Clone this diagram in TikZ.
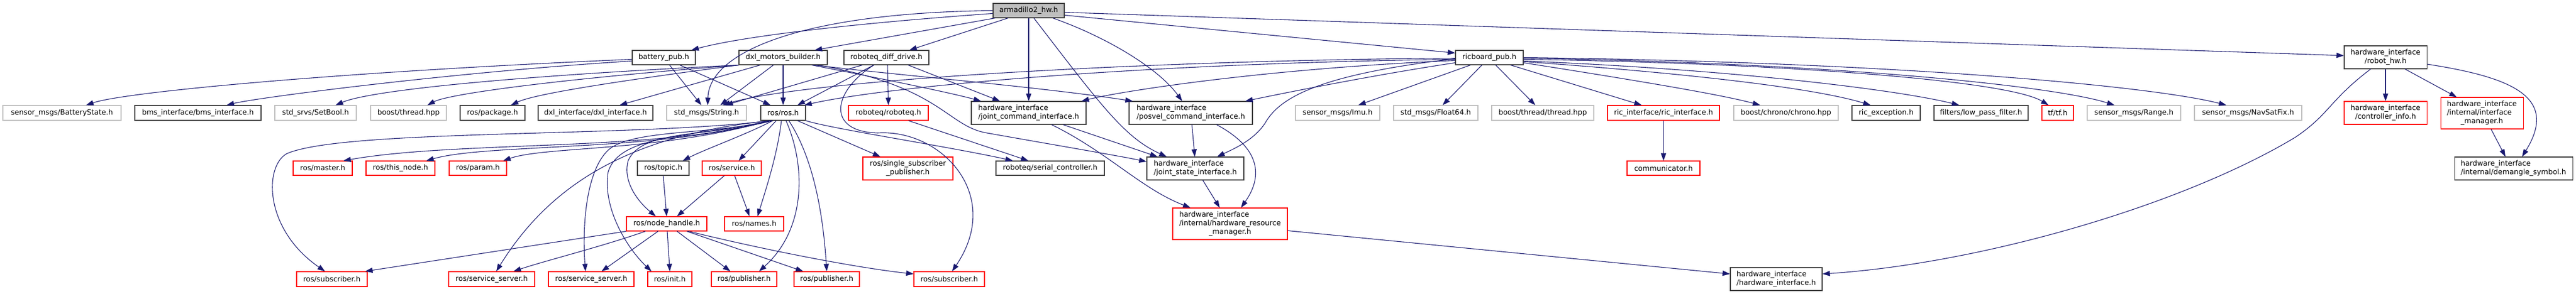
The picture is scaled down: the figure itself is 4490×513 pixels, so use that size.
\documentclass[tikz,border=0pt]{standalone}
\usepackage{fontspec}
\setmainfont{DejaVu Sans}
\usetikzlibrary{arrows.meta}
\definecolor{mb}{HTML}{191970}
\definecolor{bkc}{HTML}{404040}
\definecolor{gyc}{HTML}{BFBFBF}
\definecolor{rdc}{HTML}{FF0000}
\newcommand\dvs{\fontsize{12.6}{15}\selectfont}
\newcommand\ml[2]{\begin{tabular}{@{}l@{}}#1\\\multicolumn{1}{@{}c@{}}{#2}\end{tabular}}
\begin{document}
\begin{tikzpicture}[x=1pt,y=-1pt,
  box/.style={rectangle, inner sep=0pt, line width=1.1pt, font=\dvs, text=black},
  bk/.style={box, draw=bkc},
  gy/.style={box, draw=gyc},
  rb/.style={box, draw=rdc},
  sz/.style 2 args={minimum width=#1pt, minimum height=#2pt},
  e/.style={draw=mb, line width=1.1pt, -{Triangle[length=13pt,width=9pt]}}]
\fill[white] (0,0) rectangle (4490,513);
\useasboundingbox (0,0) rectangle (4490,513);
% row 0
\node[bk, fill=gyc, sz={124}{25}] (arm) at (1793,18.5) {armadillo2\_hw.h};
% row 1
\node[bk, sz={110}{25}] (bat) at (1157,100.5) {battery\_pub.h};
\node[bk, sz={154}{25}] (dxl) at (1365,100.5) {dxl\_motors\_builder.h};
\node[bk, sz={148}{25}] (rdd) at (1545,100.5) {roboteq\_diff\_drive.h};
\node[bk, sz={118}{25}] (ric) at (2596,100.5) {ricboard\_pub.h};
\node[bk, sz={144}{40}] (rhw) at (4158,100) {\ml{hardware\_interface}{/robot\_hw.h}};
% row 2
\node[gy, sz={206}{26}] (bst) at (108,197) {sensor\_msgs/BatteryState.h};
\node[bk, sz={220}{26}] (bms) at (345,197) {bms\_interface/bms\_interface.h};
\node[gy, sz={142}{26}] (setb) at (550,197) {std\_srvs/SetBool.h};
\node[gy, sz={132}{26}] (bth) at (712,197) {boost/thread.hpp};
\node[bk, sz={113}{26}] (pkg) at (858.5,197) {ros/package.h};
\node[bk, sz={200}{26}] (dxli) at (1038,197) {dxl\_interface/dxl\_interface.h};
\node[gy, sz={139}{26}] (str) at (1231.5,197) {std\_msgs/String.h};
\node[bk, sz={78}{26}] (ros) at (1365,197) {ros/ros.h};
\node[rb, sz={139}{26}] (rbq) at (1548.5,197) {roboteq/roboteq.h};
\node[bk, sz={200}{40}] (jci) at (1793,197) {\ml{hardware\_interface}{/joint\_command\_interface.h}};
\node[bk, sz={215}{40}] (pvi) at (2075.5,197) {\ml{hardware\_interface}{/posvel\_command\_interface.h}};
\node[gy, sz={147}{26}] (imu) at (2331.5,197) {sensor\_msgs/Imu.h};
\node[gy, sz={147}{26}] (f64) at (2502.5,197) {std\_msgs/Float64.h};
\node[gy, sz={178}{26}] (tth) at (2689,197) {boost/thread/thread.hpp};
\node[rb, sz={195}{26}] (rici) at (2899.5,197) {ric\_interface/ric\_interface.h};
\node[gy, sz={182}{26}] (chr) at (3113,197) {boost/chrono/chrono.hpp};
\node[bk, sz={119}{26}] (rexc) at (3287.5,197) {ric\_exception.h};
\node[bk, sz={164}{26}] (lpf) at (3453,197) {filters/low\_pass\_filter.h};
\node[rb, sz={55}{26}] (tf) at (3586.5,197) {tf/tf.h};
\node[gy, sz={163}{26}] (rng) at (3719.5,197) {sensor\_msgs/Range.h};
\node[gy, sz={187}{26}] (nsf) at (3918.5,197) {sensor\_msgs/NavSatFix.h};
\node[rb, sz={144}{40}] (cinfo) at (4158,197) {\ml{hardware\_interface}{/controller\_info.h}};
\node[rb, sz={144}{55}] (imgr) at (4326,197.5) {\ml{hardware\_interface\\/internal/interface}{\_manager.h}};
% row 3
\node[rb, sz={103}{25}] (mst) at (562.5,293.5) {ros/master.h};
\node[rb, sz={120}{25}] (thn) at (698,293.5) {ros/this\_node.h};
\node[rb, sz={100}{25}] (prm) at (833,293.5) {ros/param.h};
\node[bk, sz={90}{25}] (top) at (1156,293.5) {ros/topic.h};
\node[rb, sz={103}{25}] (srv) at (1275.5,293.5) {ros/service.h};
\node[rb, sz={157}{40}] (ssp) at (1582.5,294) {\ml{ros/single\_subscriber}{\_publisher.h}};
\node[bk, sz={189}{25}] (ser) at (1830.5,293.5) {roboteq/serial\_controller.h};
\node[bk, sz={169}{40}] (jsi) at (2083.5,294) {\ml{hardware\_interface}{/joint\_state\_interface.h}};
\node[rb, sz={127}{25}] (com) at (2899.5,293.5) {communicator.h};
\node[bk, sz={206}{40}] (dem) at (4381,294) {\ml{hardware\_interface}{/internal/demangle\_symbol.h}};
% row 4
\node[rb, sz={140}{25}] (nh) at (1162,390.5) {ros/node\_handle.h};
\node[rb, sz={103}{25}] (nam) at (1314.5,390.5) {ros/names.h};
\node[rb, sz={200}{55}] (hrm) at (2144,390.5) {\ml{hardware\_interface\\/internal/hardware\_resource}{\_manager.h}};
% row 5
\node[rb, sz={123}{26}] (sub1) at (578.5,487) {ros/subscriber.h};
\node[rb, sz={150}{26}] (ss1) at (857,487) {ros/service\_server.h};
\node[rb, sz={149}{26}] (ss2) at (1030.5,487) {ros/service\_server.h};
\node[rb, sz={77}{26}] (init) at (1167.5,487) {ros/init.h};
\node[rb, sz={114}{26}] (pub1) at (1297,487) {ros/publisher.h};
\node[rb, sz={114}{26}] (pub2) at (1441,487) {ros/publisher.h};
\node[rb, sz={123}{26}] (sub2) at (1654.5,487) {ros/subscriber.h};
\node[bk, sz={160}{40}] (hwi) at (3096,487) {\ml{hardware\_interface}{/hardware\_interface.h}};
% edges from armadillo2_hw.h
\draw[e] (arm.west) .. controls (1400,22) and (1236,90) .. ([xshift=2pt]str.north);
\draw[e] ([yshift=-5pt]arm.west) .. controls (1500,40) and (1300,62) .. ([xshift=48pt]bat.north);
\draw[e] ([xshift=4pt]arm.south west) -- ([xshift=55pt]dxl.north);
\draw[e] ([xshift=-36pt]arm.south) -- ([xshift=40pt]rdd.north);
\draw[e] (arm.south) -- (jci.north);
\draw[e] ([xshift=9pt]arm.south) .. controls (1920,185) and (1960,240) .. ([xshift=-50pt]jsi.north);
\draw[e] ([xshift=42pt]arm.south) .. controls (1930,65) and (2020,120) .. ([xshift=-15pt]pvi.north);
\draw[e] ([yshift=-8pt]arm.east) -- ([yshift=8pt]ric.west);
\draw[e] ([yshift=-3pt]arm.east) -- ([yshift=3pt]rhw.west);
% battery_pub.h
\draw[e] ([yshift=-3pt]bat.west) .. controls (600,125) and (220,160) .. ([xshift=42pt]bst.north);
\draw[e] ([yshift=-6pt]bat.west) .. controls (800,125) and (450,170) .. ([xshift=50pt]bms.north);
\draw[e] ([xshift=10pt]bat.south) -- ([xshift=-9pt]str.north);
\draw[e] ([xshift=28pt]bat.south) -- ([xshift=-22pt]ros.north);
% dxl_motors_builder.h
\draw[e] (dxl.south west) .. controls (850,135) and (640,160) .. ([xshift=35pt]setb.north);
\draw[e] (dxl.south west) .. controls (950,140) and (780,165) .. ([xshift=33pt]bth.north);
\draw[e] (dxl.south west) .. controls (1050,145) and (930,165) .. ([xshift=32pt]pkg.north);
\draw[e] ([xshift=-40pt]dxl.south) -- ([xshift=42pt]dxli.north);
\draw[e] ([xshift=-17pt]dxl.south) -- ([xshift=24pt]str.north);
\draw[e] (dxl.south) -- (ros.north);
\draw[e] ([xshift=50pt]dxl.south) .. controls (1500,130) and (1650,160) .. ([xshift=-83pt]jci.north);
\draw[e] ([xshift=55pt]dxl.south) .. controls (1550,130) and (1800,150) .. ([xshift=7pt]pvi.north west);
\draw[e] ([xshift=60pt]dxl.south) .. controls (1640,150) and (1650,220) .. (1720,232) .. controls (1850,255) and (1950,272) .. ([yshift=12pt]jsi.west);
% roboteq_diff_drive.h
\draw[e] ([xshift=-42pt]rdd.south) -- ([xshift=33pt]str.north);
\draw[e] ([xshift=-22pt]rdd.south) -- ([xshift=25pt]ros.north);
\draw[e] ([xshift=2pt]rdd.south) -- (rbq.north);
\draw[e] ([xshift=38pt]rdd.south) -- ([xshift=-50pt]jci.north);
\draw[e] ([xshift=-22pt]rdd.south) .. controls (1450,160) and (1440,230) .. (1530,232) .. controls (1640,225) and (1750,340) .. ([xshift=5pt]sub2.north);
% ros/ros.h
\draw[e] ([xshift=-12pt]ros.south) -- ([xshift=12pt]srv.north);
\draw[e] ([xshift=-18pt]ros.south) .. controls (1300,235) and (1230,260) .. ([xshift=34pt]top.north);
\draw[e] ([xshift=-3pt]ros.south) .. controls (1355,270) and (1335,330) .. ([xshift=6pt]nam.north);
\draw[e] ([xshift=5pt]ros.south) .. controls (1405,290) and (1405,400) .. ([xshift=26pt]pub1.north);
\draw[e] ([xshift=10pt]ros.south) .. controls (1420,280) and (1435,380) .. (pub2.north);
\draw[e] ([xshift=25pt]ros.south) -- ([xshift=-48pt]ssp.north);
\draw[e] (ros.south east) .. controls (1450,225) and (1650,255) .. ([xshift=-65pt]ser.north);
\draw[e] ([xshift=-24pt]ros.south) .. controls (1150,265) and (800,245) .. ([xshift=36pt]mst.north);
\draw[e] ([xshift=-24pt]ros.south) .. controls (1150,265) and (850,250) .. ([xshift=45pt]thn.north);
\draw[e] ([xshift=-24pt]ros.south) .. controls (1150,265) and (950,255) .. ([xshift=44pt]prm.north);
\draw[e] ([xshift=-20pt]ros.south) .. controls (1100,240) and (600,225) .. (500,268) .. controls (460,290) and (460,400) .. ([xshift=-12pt]sub1.north);
\draw[e] ([xshift=-22pt]ros.south) .. controls (1100,235) and (960,320) .. ([xshift=8pt]ss1.north);
\draw[e] ([xshift=-22pt]ros.south) .. controls (1250,235) and (1100,225) .. (1060,262) .. controls (1020,300) and (1015,400) .. ([xshift=-10pt]ss2.north);
\draw[e] ([xshift=-20pt]ros.south) .. controls (1200,240) and (1080,235) .. (1060,300) .. controls (1050,360) and (1090,430) .. ([xshift=-32pt]init.north);
\draw[e] ([xshift=-18pt]ros.south) .. controls (1230,240) and (1120,225) .. (1095,280) .. controls (1085,315) and (1110,350) .. ([xshift=-19pt]nh.north);
% roboteq.h
\draw[e] ([xshift=35pt]rbq.south) -- ([xshift=-38pt]ser.north);
% hardware interface chain
\draw[e] ([xshift=60pt]jci.south) -- ([xshift=-66pt]jsi.north);
\draw[e] ([xshift=40pt]jci.south) .. controls (1930,265) and (1990,330) .. ([xshift=-69pt]hrm.north);
\draw[e] ([xshift=2pt]pvi.south) -- ([xshift=-1pt]jsi.north);
\draw[e] ([xshift=45pt]pvi.south) .. controls (2200,260) and (2200,310) .. ([xshift=19pt]hrm.north);
\draw[e] ([xshift=13pt]jsi.south) -- ([xshift=-18pt]hrm.north);
\draw[e] ([yshift=-12pt]hrm.east) -- ([yshift=9pt]hwi.west);
% ricboard_pub.h
\draw[e] ([yshift=-1pt]ric.west) .. controls (2000,105) and (1400,140) .. ([xshift=28pt]str.north);
\draw[e] ([yshift=-3pt]ric.west) .. controls (2000,110) and (1550,150) .. ([xshift=37pt]ros.north);
\draw[e] ([yshift=-5pt]ric.west) .. controls (2200,120) and (1950,160) .. ([xshift=92pt]jci.north);
\draw[e] ([yshift=-9pt]ric.west) .. controls (2400,130) and (2250,160) .. ([xshift=95pt]pvi.north);
\draw[e] ([yshift=-2pt]ric.west) .. controls (2300,130) and (2230,170) .. (2205,215) .. controls (2185,245) and (2150,260) .. ([xshift=38pt]jsi.north);
\draw[e] ([xshift=-33pt]ric.south) -- ([xshift=36pt]imu.north);
\draw[e] ([xshift=-13pt]ric.south) -- ([xshift=12pt]f64.north);
\draw[e] ([xshift=11pt]ric.south) -- ([xshift=-13pt]tth.north);
\draw[e] ([xshift=37pt]ric.south) -- ([xshift=-38pt]rici.north);
\draw[e] ([yshift=-9pt]ric.east) .. controls (2850,140) and (3000,165) .. ([xshift=-45pt]chr.north);
\draw[e] ([yshift=-7pt]ric.east) .. controls (2900,125) and (3150,150) .. ([xshift=-27pt]rexc.north);
\draw[e] ([yshift=-6pt]ric.east) .. controls (3000,120) and (3300,155) .. ([xshift=-38pt]lpf.north);
\draw[e] ([yshift=-3pt]ric.east) .. controls (3100,110) and (3500,140) .. ([xshift=-16pt]tf.north);
\draw[e] ([yshift=-1pt]ric.east) .. controls (3200,110) and (3580,150) .. ([xshift=-34pt]rng.north);
\draw[e] (ric.east) .. controls (3300,108) and (3750,150) .. ([xshift=-38pt]nsf.north);
\draw[e] (rici.south) -- (com.north);
% robot_hw.h
\draw[e] (rhw.south) -- (cinfo.north);
\draw[e] ([xshift=34pt]rhw.south) -- ([xshift=-44pt]imgr.north);
\draw[e] ([yshift=-12pt]rhw.east) .. controls (4380,135) and (4460,170) .. ([xshift=15pt]dem.north);
\draw[e] ([xshift=-26pt]rhw.south) .. controls (4060,175) and (4060,200) .. (4000,240) .. controls (3800,360) and (3450,460) .. ([yshift=9pt]hwi.east);
\draw[e] ([xshift=16pt]imgr.south) -- ([xshift=-14pt]dem.north);
% node_handle.h
\draw[e] (nh.south west) -- ([xshift=58pt]sub1.north);
\draw[e] ([xshift=-37pt]nh.south) .. controls (1050,430) and (950,455) .. ([xshift=38pt]ss1.north);
\draw[e] ([xshift=-15pt]nh.south) -- ([xshift=18pt]ss2.north);
\draw[e] ([xshift=1pt]nh.south) -- (init.north);
\draw[e] ([xshift=18pt]nh.south) -- ([xshift=-24pt]pub1.north);
\draw[e] ([xshift=35pt]nh.south) -- ([xshift=-41pt]pub2.north);
\draw[e] ([xshift=38pt]nh.south) .. controls (1350,440) and (1500,468) .. ([yshift=9pt]sub2.west);
% topic / service
\draw[e] (top.south) -- (nh.north);
\draw[e] ([xshift=-13pt]srv.south) -- ([xshift=18pt]nh.north);
\draw[e] ([xshift=5pt]srv.south) -- ([xshift=-8pt]nam.north);
\end{tikzpicture}
\end{document}
